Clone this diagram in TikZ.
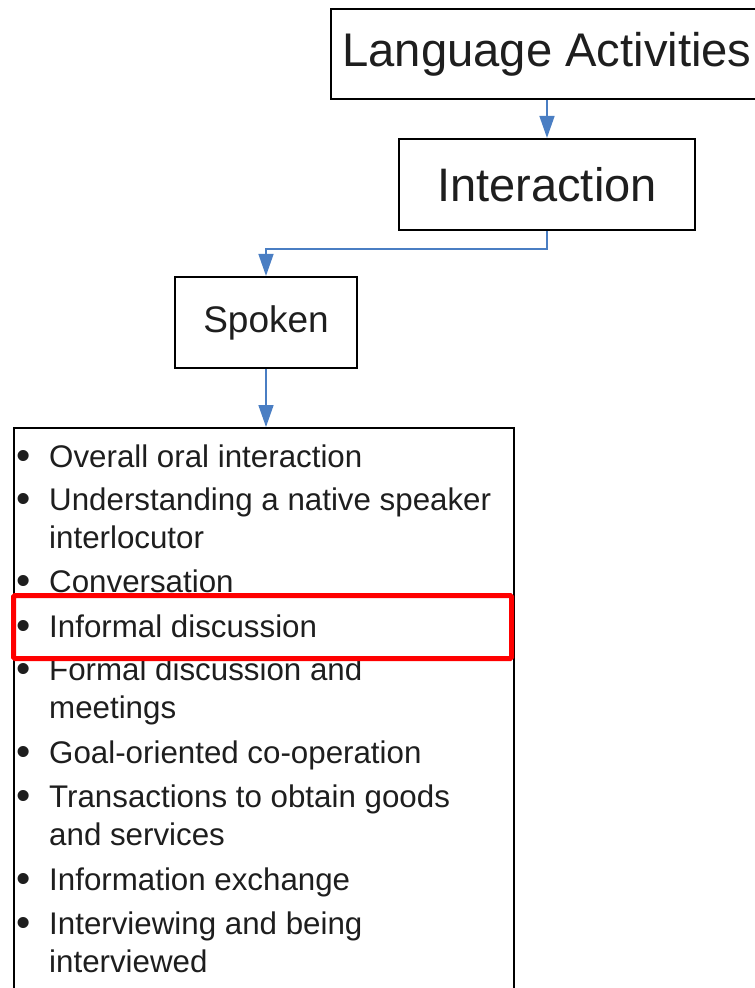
\documentclass[tikz,border=0pt]{standalone}
\usepackage{fontspec}
\setmainfont{Liberation Sans}
\usetikzlibrary{arrows.meta}
\definecolor{linkblue}{RGB}{74,126,195}
\definecolor{inkgray}{RGB}{30,30,30}
\begin{document}
\begin{tikzpicture}[x=1pt,y=-1pt,
  box/.style={draw=black, line width=2.2pt, inner sep=0pt, fill=white, text=inkgray},
  link/.style={draw=linkblue, line width=1.6pt, -{Triangle[length=22pt,width=15pt]}},
  % the base anchor of a wrapped item sits on its last line
  itm/.style={anchor=base west, inner sep=0pt, align=left, text=inkgray,
              font=\fontsize{31.3}{38}\selectfont},
  mark box/.style={draw=red, line width=5pt, rounded corners=1.5pt, inner sep=0pt,
                   minimum width=498pt, minimum height=63pt},
]
\useasboundingbox (0,0) rectangle (755,988);
\clip (0,0) rectangle (755,988);

% hierarchy boxes
\node[box, minimum width=432pt, minimum height=90pt,
      font=\fontsize{47.2}{50}\selectfont] (la) at (547,54) {Language Activities};
\node[box, minimum width=296pt, minimum height=91pt,
      font=\fontsize{47}{50}\selectfont] (int) at (547,184.5) {Interaction};
\node[box, minimum width=182pt, minimum height=91pt,
      font=\fontsize{37}{40}\selectfont] (spk) at (266,322.5) {Spoken};

% list of spoken interaction activities
\node[draw=black, line width=2pt, anchor=north west, inner sep=0pt,
      minimum width=500pt, minimum height=640pt] (lst) at (13,427) {};

\newcommand{\blt}{\makebox[33pt][l]{\hspace{0.5pt}\raisebox{-2.5pt}{\scalebox{1.3}{\textbullet}}}}
\newcommand{\ind}{\hspace*{33pt}}
\node[itm] (i1) at (16,467) {\blt Overall oral interaction};
\node[itm] (i2) at (16,548) {\blt Understanding a native speaker\\\ind interlocutor};
\node[itm] (i3) at (16,592) {\blt Conversation};
\node[itm] (i4) at (16,637) {\blt Informal discussion};
\node[itm] (i5) at (16,718) {\blt Formal discussion and\\\ind meetings};
\node[itm] (i6) at (16,763) {\blt Goal-oriented co-operation};
\node[itm] (i7) at (16,845) {\blt Transactions to obtain goods\\\ind and services};
\node[itm] (i8) at (16,890) {\blt Information exchange};
\node[itm] (i9) at (16,972) {\blt Interviewing and being\\\ind interviewed};

% highlight around one item
\node[mark box] (hl) at (262.5,627) {};

% connectors
\draw[link] (int.north |- la.south) -- (int.north);
\draw[link] (int.south) -- ++(0,18) -| (spk.north);
\draw[link] (spk.south) -- (spk.south |- lst.north);
\end{tikzpicture}
\end{document}
